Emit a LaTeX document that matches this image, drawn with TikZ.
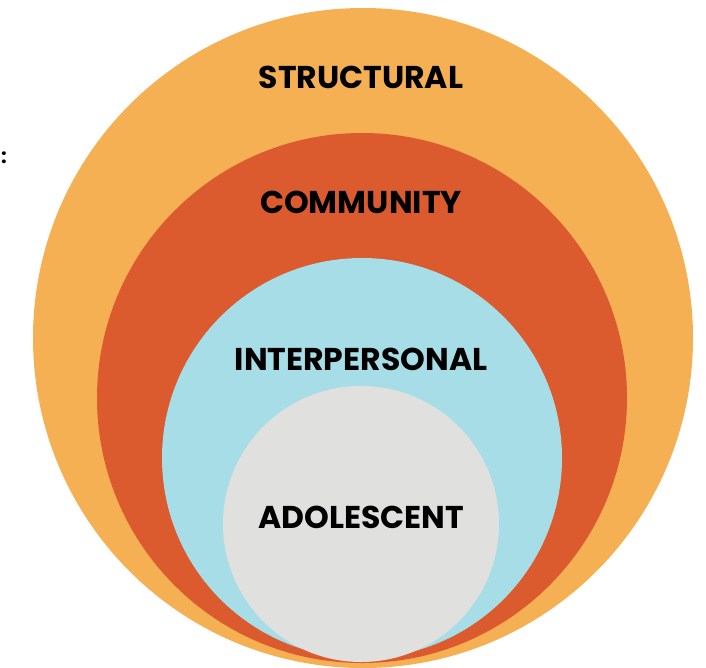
\documentclass[tikz,border=0pt]{standalone}
\usepackage{fontspec}
\setmainfont{Poppins}[UprightFont=* Bold]
\definecolor{cOrange}{HTML}{F4B053}
\definecolor{cRed}{HTML}{DB5B2F}
\definecolor{cBlue}{HTML}{A7DDE6}
\definecolor{cGrey}{HTML}{E0E0DE}
\begin{document}
\begin{tikzpicture}[x=1pt,y=-1pt,
  ring/.style={circle, inner sep=0pt, outer sep=0pt, draw=none},
  lbl/.style={font=\fontsize{31.5}{34}\selectfont, text=black, inner sep=0pt}]
\useasboundingbox (0,0) rectangle (706,667);
\begin{scope}
\clip (0,0) rectangle (706,667);
\node[ring, fill=cOrange, minimum size=660pt] (structural) at (363,338) {};
\node[ring, fill=cRed, minimum size=530pt] (community) at (362,398) {};
\node[ring, fill=cBlue, minimum size=400pt] (interpersonal) at (362,458) {};
\node[ring, fill=cGrey, minimum size=276pt] (adolescent) at (361,524) {};
\end{scope}
\node[lbl] (t1) at (361,77) {STRUCTURAL};
\node[lbl] (t2) at (361,202) {COMMUNITY};
\node[lbl] (t3) at (361,359) {INTERPERSONAL};
\node[lbl] (t4) at (361,517) {ADOLESCENT};
\node[font=\fontsize{20}{22}\selectfont, inner sep=0pt] (colon) at (4,158) {:};
\end{tikzpicture}
\end{document}
